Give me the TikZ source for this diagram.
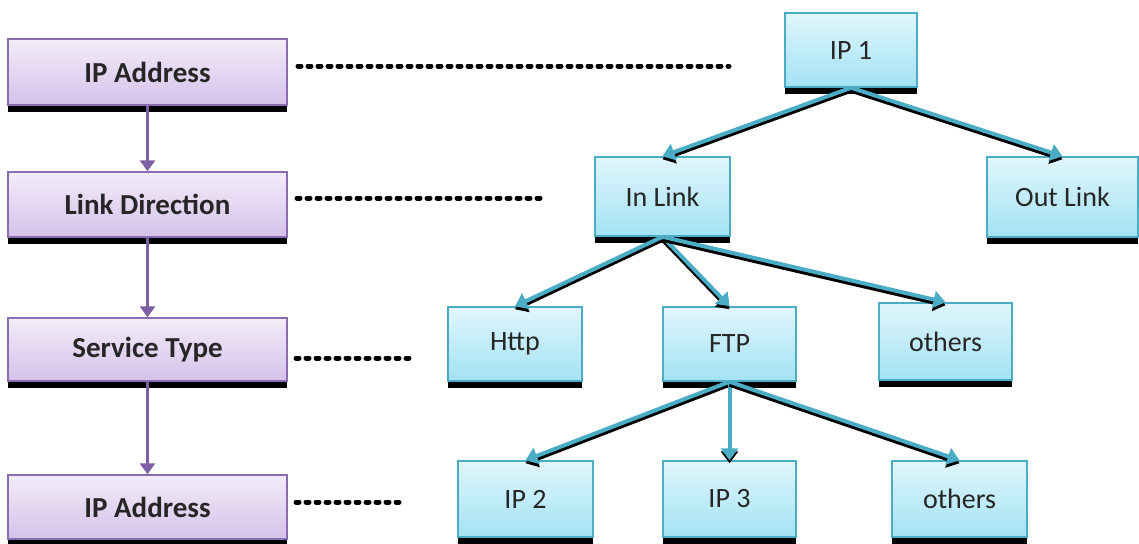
\documentclass[tikz,border=0pt]{standalone}
\usepackage{fontspec}
\setmainfont{Carlito}
\usetikzlibrary{arrows.meta,shadows}
\definecolor{pborder}{HTML}{8A6DB0}
\definecolor{parrow}{HTML}{7E5FA6}
\definecolor{ptop}{HTML}{F3ECF9}
\definecolor{pbot}{HTML}{D5C1EA}
\definecolor{cborder}{HTML}{4BACC6}
\definecolor{ctop}{HTML}{E0F6FC}
\definecolor{cbot}{HTML}{A3E2F4}
\definecolor{txt}{HTML}{262626}
\begin{document}
\begin{tikzpicture}[x=1pt,y=-1pt,
  boxshadow/.style={drop shadow={shadow xshift=0pt,shadow yshift=-7pt,fill=black,opacity=1}},
  pbox/.style={boxshadow,draw=pborder,line width=1.5pt,top color=ptop,bottom color=pbot,
    text=txt,font=\fontsize{29}{34}\selectfont\bfseries,minimum width=279pt,inner sep=0pt},
  cbox/.style={boxshadow,draw=cborder,line width=1.5pt,top color=ctop,bottom color=cbot,
    text=txt,font=\fontsize{28}{33}\selectfont,inner sep=0pt},
  parr/.style={draw=parrow,line width=3.5pt,-{Triangle[length=11pt,width=15pt]}},
  tshadow/.style={draw=black,line width=4pt,-{Triangle[length=12pt,width=17pt]},
    transform canvas={yshift=-3pt}},
  tarr/.style={draw=cborder,line width=4pt,-{Triangle[length=12pt,width=17pt]}},
  dotline/.style={draw=black,line width=5pt,line cap=round,dash pattern=on 3pt off 7pt}]
\useasboundingbox (0,0) rectangle (1139,543);

% left column
\node[pbox,minimum height=66pt] (L1) at (147.5,72) {IP Address};
\node[pbox,minimum height=65pt] (L2) at (147.5,204.5) {Link Direction};
\node[pbox,minimum height=63pt] (L3) at (147.5,349.5) {Service Type};
\node[pbox,minimum height=64pt] (L4) at (147.5,507) {IP Address};

\draw[parr] (L1.south) -- (L2.north);
\draw[parr] (L2.south) -- (L3.north);
\draw[parr] (L3.south) -- (L4.north);

% dotted guides
\coordinate (s1) at (298,66);  \coordinate (e1) at (729,66);
\coordinate (s2) at (297,198); \coordinate (e2) at (544,198);
\coordinate (s3) at (296,358); \coordinate (e3) at (416,358);
\coordinate (s4) at (296,502); \coordinate (e4) at (405,502);
\draw[dotline] (s1) -- (e1);
\draw[dotline] (s2) -- (e2);
\draw[dotline] (s3) -- (e3);
\draw[dotline] (s4) -- (e4);

% tree
\node[cbox,minimum width=132pt,minimum height=74pt] (ip1) at (851,50) {IP 1};
\node[cbox,minimum width=135pt,minimum height=79pt] (in) at (662.5,196.5) {In Link};
\node[cbox,minimum width=151pt,minimum height=80pt] (out) at (1062.5,197) {Out Link};
\node[cbox,minimum width=134pt,minimum height=74pt] (http) at (515,344) {Http};
\node[cbox,minimum width=133pt,minimum height=74pt] (ftp) at (729.5,344) {FTP};
\node[cbox,minimum width=133pt,minimum height=77pt] (oth1) at (945.5,341.5) {others};
\node[cbox,minimum width=135pt,minimum height=76pt] (ip2) at (525.5,499) {IP 2};
\node[cbox,minimum width=133pt,minimum height=76pt] (ip3) at (729.5,499) {IP 3};
\node[cbox,minimum width=135pt,minimum height=76pt] (oth2) at (959.5,499) {others};

\foreach \a/\b in {ip1/in,ip1/out,in/http,in/ftp,in/oth1,ftp/ip2,ftp/ip3,ftp/oth2}{
  \draw[tshadow] (\a.south) -- (\b.north);
  \draw[tarr] (\a.south) -- (\b.north);
}
\end{tikzpicture}
\end{document}
